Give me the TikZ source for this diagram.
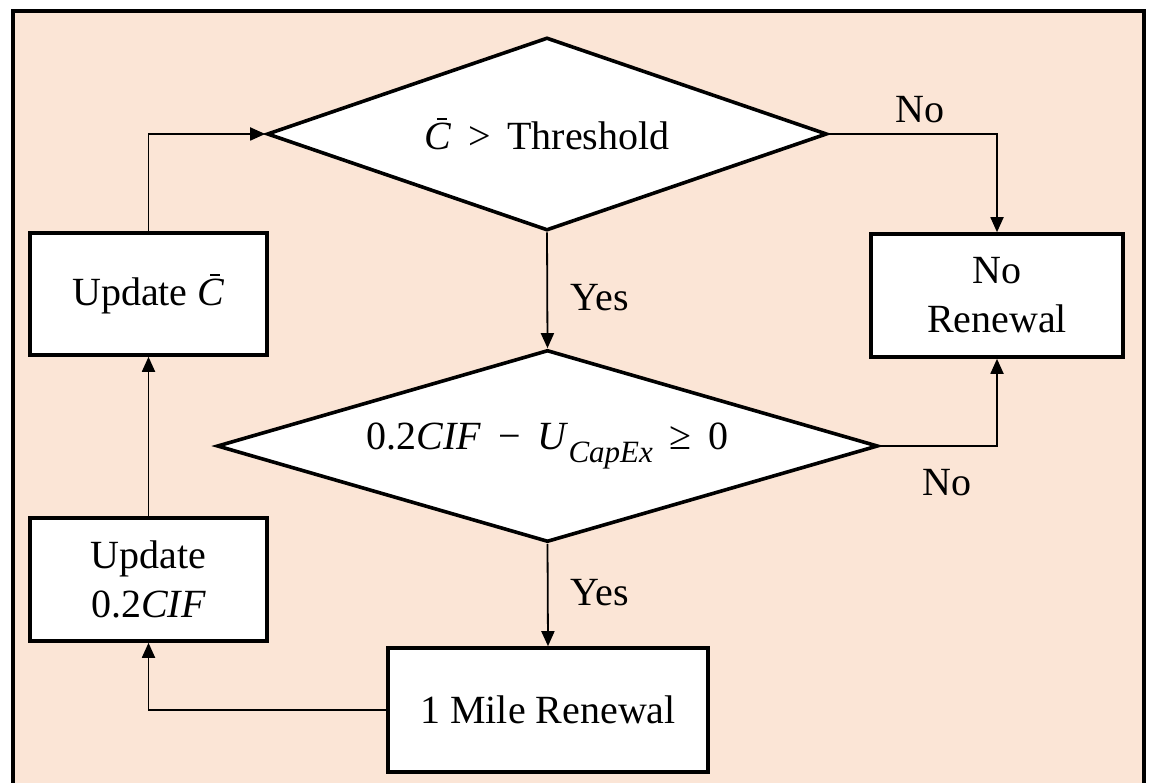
\documentclass[tikz,border=0pt]{standalone}
\usepackage{fontspec}
\setmainfont{Liberation Serif}
\usetikzlibrary{shapes.geometric,arrows.meta}
\definecolor{peach}{HTML}{FBE5D6}
% italic C with a short overbar
\newcommand{\cbar}{\textit{C}\kern-0.36em\raisebox{0.74em}{\rule{0.24em}{0.045em}}\kern0.12em}
\newcommand{\gap}{\hspace{0.42em}}
\begin{document}
\begin{tikzpicture}[x=1pt,y=-1pt,
  txt/.style={font=\fontsize{40}{49}\selectfont},
  stepbox/.style={txt,draw,line width=3.6pt,fill=white,inner sep=0pt,align=center},
  decision/.style={txt,draw,line width=3.6pt,fill=white,shape=diamond,inner sep=0pt,align=center},
  link/.style={line width=1.8pt,-{Triangle[length=15pt,width=13pt]}},
  lbl/.style={txt,inner sep=0pt}
]
\useasboundingbox (0,0) rectangle (1150,783);
\clip (0,0) rectangle (1150,783);

% frame and background
\draw[line width=3.8pt,fill=peach] (13,11) rectangle (1144,800);

% decisions
\node[decision,aspect=2.9016,minimum width=560pt,minimum height=193pt] (d1) at (547,134)
  {\cbar\gap>\gap Threshold};
\node[decision,aspect=3.4427,minimum width=661pt,minimum height=192pt] (d2) at (547.5,446)
  {0.2\textit{CIF}\gap−\gap\textit{U}\raisebox{-0.34em}{\fontsize{31}{31}\selectfont\itshape CapEx}\gap≥\gap 0};

% process boxes
\node[stepbox,minimum width=237pt,minimum height=122pt] (upd1) at (148.5,294) {Update \cbar};
\node[stepbox,minimum width=237pt,minimum height=123pt] (upd2) at (148.5,579.5) {Update\\0.2\textit{CIF}};
\node[stepbox,minimum width=252pt,minimum height=123pt] (nr) at (997,295.5) {No\\Renewal};
\node[stepbox,minimum width=320pt,minimum height=124pt] (mile) at (548,710) {1 Mile Renewal};

% connectors
\draw[link] (d1.south) -- (d2.north);
\draw[link] (d2.south) -- (mile.north);
\draw[link] (mile.west) -| (upd2.south);
\draw[link] (upd2.north) -- (upd1.south);
\draw[link] (upd1.north) |- (d1.west);
\draw[link] (d1.east) -| (nr.north);
\draw[link] (d2.east) -| (nr.south);

% branch labels
\node[lbl] (y1) at (600,298) {Yes};
\node[lbl] (y2) at (600,593) {Yes};
\node[lbl] (n1) at (920,110) {No};
\node[lbl] (n2) at (947,483) {No};
\end{tikzpicture}
\end{document}
